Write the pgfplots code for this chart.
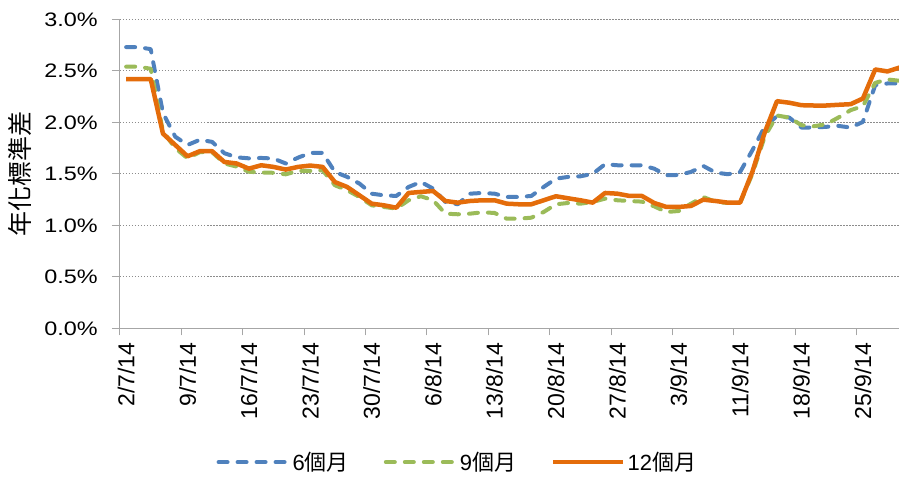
\documentclass[border=0pt]{standalone}
\usepackage{fontspec}
\setmainfont{Liberation Sans}
\newfontfamily\cjk{Noto Sans CJK TC}
\newfontfamily\yfont{Liberation Sans}[FakeStretch=1.2]
\usepackage{pgfplots}
\pgfplotsset{compat=1.18}
\usepackage{pgfplotstable}
\usetikzlibrary{calc}
\definecolor{cBlue}{HTML}{4F81BD}
\definecolor{cGreen}{HTML}{9BBB59}
\definecolor{cOrange}{HTML}{E46C0A}
\definecolor{cAxis}{HTML}{A6A6A6}
\definecolor{cGrid}{HTML}{8C8C8C}

\pgfplotstableread{
i m6 m9 m12
0 2.73 2.54 2.42
1 2.73 2.54 2.42
2 2.71 2.52 2.42
3 2.09 1.91 1.89
4 1.86 1.75 1.78
5 1.78 1.65 1.67
6 1.83 1.71 1.72
7 1.81 1.71 1.72
8 1.70 1.60 1.615
9 1.66 1.57 1.60
10 1.65 1.52 1.55
11 1.654 1.512 1.583
12 1.648 1.51 1.567
13 1.60 1.495 1.541
14 1.657 1.528 1.567
15 1.703 1.528 1.58
16 1.703 1.534 1.567
17 1.518 1.389 1.42
18 1.47 1.34 1.372
19 1.405 1.275 1.291
20 1.307 1.194 1.21
21 1.291 1.178 1.194
22 1.285 1.162 1.171
23 1.372 1.243 1.314
24 1.421 1.282 1.324
25 1.356 1.243 1.333
26 1.227 1.113 1.236
27 1.204 1.107 1.22
28 1.307 1.113 1.236
29 1.314 1.126 1.243
30 1.307 1.12 1.243
31 1.275 1.064 1.21
32 1.275 1.064 1.204
33 1.285 1.074 1.204
34 1.372 1.129 1.243
35 1.453 1.204 1.282
36 1.47 1.217 1.262
37 1.476 1.21 1.243
38 1.50 1.227 1.22
39 1.593 1.259 1.314
40 1.583 1.243 1.307
41 1.583 1.236 1.285
42 1.583 1.23 1.285
43 1.55 1.184 1.217
44 1.486 1.129 1.178
45 1.489 1.139 1.178
46 1.518 1.21 1.188
47 1.576 1.275 1.249
48 1.512 1.227 1.236
49 1.496 1.217 1.22
50 1.518 1.217 1.22
51 1.729 1.50 1.52
52 1.956 1.86 1.90
53 2.06 2.066 2.205
54 2.046 2.046 2.19
55 1.949 1.972 2.166
56 1.949 1.962 2.163
57 1.956 1.981 2.163
58 1.965 2.046 2.17
59 1.949 2.118 2.176
60 2.004 2.157 2.231
61 2.361 2.383 2.513
62 2.377 2.416 2.494
63 2.377 2.403 2.532
}\data

\begin{document}
\begin{tikzpicture}[x=1pt,y=1pt]
\begin{axis}[
  scale only axis, width=779pt, height=309pt,
  xmin=-0.5, xmax=62.94, ymin=0, ymax=3,
  axis x line*=bottom, axis y line*=left,
  axis line style={cAxis, line width=1pt},
  tick align=outside,
  ytick={0,0.5,1,1.5,2,2.5,3},
  yticklabels={0.0\%,0.5\%,1.0\%,1.5\%,2.0\%,2.5\%,3.0\%},
  yticklabel style={font=\yfont\fontsize{19.5}{20}\selectfont, anchor=east, inner sep=0pt, xshift=-14pt},
  ytick style={cAxis, line width=1pt},
  major tick length=8pt,
  xtick={0,5,10,15,20,25,30,35,40,45,50,55,60},
  xticklabels={2/7/14,9/7/14,16/7/14,23/7/14,30/7/14,6/8/14,13/8/14,20/8/14,27/8/14,3/9/14,11/9/14,18/9/14,25/9/14},
  xticklabel style={font=\fontsize{23}{23}\selectfont, rotate=90, anchor=east, inner sep=0pt, xshift=-6pt},
  major x tick style={draw=none},
  minor xtick={-0.5,4.5,9.5,14.5,19.5,24.5,29.5,34.5,39.5,44.5,49.5,54.5,59.5},
  minor x tick style={cAxis, line width=1pt},
  minor tick length=7pt,
  ymajorgrids,
  major grid style={cGrid, dash pattern=on 1.5pt off 1.5pt, line width=0.8pt},
  ylabel={\cjk 年化標準差},
  ylabel style={at={(axis description cs:-0.1284,0.5)}, anchor=center, font=\fontsize{25}{25}\selectfont},
  legend columns=3,
  legend style={at={(0.433,-0.433)}, anchor=center, draw=none, fill=none,
    font=\fontsize{22}{22}\selectfont,
    /tikz/every even column/.append style={column sep=33pt}},
  legend image code/.code={\draw[#1] (0pt,0pt) -- (70pt,0pt);},
]
\addplot[cBlue, line width=4pt, dash pattern=on 9pt off 10pt, line cap=round, line join=round] table[x=i,y=m6]{\data};
\addlegendentry{6\cjk{個月}}
\addplot[cGreen, line width=4pt, dash pattern=on 9pt off 10pt, line cap=round, line join=round] table[x=i,y=m9]{\data};
\addlegendentry{9\cjk{個月}}
\addplot[cOrange, line width=4.5pt, line join=round] table[x=i,y=m12]{\data};
\addlegendentry{12\cjk{個月}}
\coordinate (bl) at (rel axis cs:0,0);
\end{axis}
\pgfresetboundingbox
\useasboundingbox ($(bl)+(-120pt,-148.7pt)$) rectangle ($(bl)+(779pt,328.3pt)$);
\end{tikzpicture}
\end{document}
